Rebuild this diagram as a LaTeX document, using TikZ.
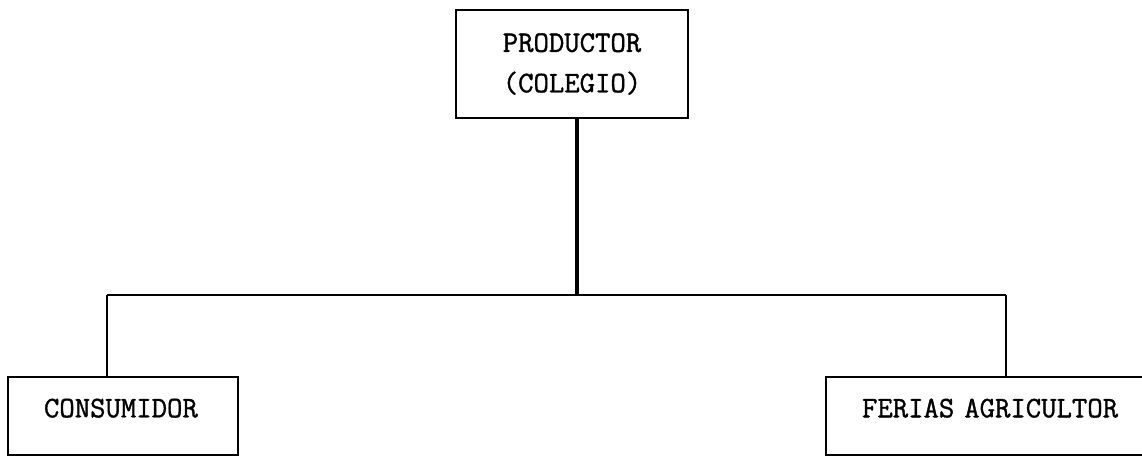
\documentclass[tikz,border=0pt]{standalone}
\usepackage{fontspec}
\newfontfamily\typewriter[FakeBold=1.2]{Latin Modern Mono}
\usetikzlibrary{positioning}

\begin{document}
\begin{tikzpicture}[
	box/.style={draw, line width=1.4pt, inner sep=0pt, font=\typewriter\fontsize{17}{23}\selectfont},
	outlet/.style={box, minimum height=1.56cm, text depth=0.32cm, align=left},
	link/.style={line width=1.4pt},
	]
		\useasboundingbox (0,0) rectangle (22.84,9.14);
		
		\node[box, minimum width=4.64cm, minimum height=2.16cm, align=center] (prod) at (11.44,7.86) {PRODUCTOR\\(COLEGIO)};
		\node[outlet, minimum width=4.6cm, text width=3.16cm] (cons) at (2.46,0.82) {CONSUMIDOR};
		\node[outlet, minimum width=7.48cm, text width=6.04cm] (ferias) at (20.26,0.82) {FERIAS AGRICULTOR};
		
		\coordinate (split) at (11.54,3.24);
		\coordinate (L) at (2.14,3.24);
		\coordinate (R) at (20.12,3.24);
		
		% stem down from the producer, then the branch to both outlets
		\draw[link, line width=2.2pt] (prod.south -| split)--(split);
		\draw[link] (L)--(R);
		\draw[link] (L)--(L |- cons.north);
		\draw[link] (R)--(R |- ferias.north);
\end{tikzpicture}
\end{document}
